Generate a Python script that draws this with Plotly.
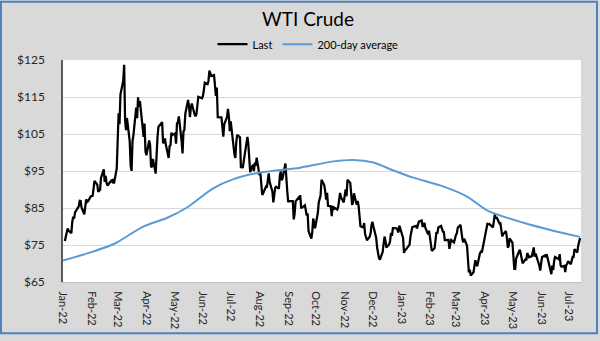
import plotly.graph_objects as go

# WTI front-month settlement prices, grouped by month
months = [
    "2022-01", "2022-02", "2022-03", "2022-04", "2022-05", "2022-06",
    "2022-07", "2022-08", "2022-09", "2022-10", "2022-11", "2022-12",
    "2023-01", "2023-02", "2023-03", "2023-04", "2023-05", "2023-06", "2023-07",
]

trading_days = [
    [3, 4, 5, 6, 7, 10, 11, 12, 13, 14, 18, 19, 20, 21, 24, 25, 26, 27, 28, 31],
    [1, 2, 3, 4, 7, 8, 9, 10, 11, 14, 15, 16, 17, 18, 22, 23, 24, 25, 28],
    [1, 2, 3, 4, 7, 8, 9, 10, 11, 14, 15, 16, 17, 18, 21, 22, 23, 24, 25, 28, 29, 30, 31],
    [1, 4, 5, 6, 7, 8, 11, 12, 13, 14, 18, 19, 20, 21, 22, 25, 26, 27, 28, 29],
    [2, 3, 4, 5, 6, 9, 10, 11, 12, 13, 16, 17, 18, 19, 20, 23, 24, 25, 26, 27, 31],
    [1, 2, 3, 6, 7, 8, 9, 10, 13, 14, 15, 16, 17, 21, 22, 23, 24, 27, 28, 29, 30],
    [1, 5, 6, 7, 8, 11, 12, 13, 14, 15, 18, 19, 20, 21, 22, 25, 26, 27, 28, 29],
    [1, 2, 3, 4, 5, 8, 9, 10, 11, 12, 15, 16, 17, 18, 19, 22, 23, 24, 25, 26, 29, 30, 31],
    [1, 2, 6, 7, 8, 9, 12, 13, 14, 15, 16, 19, 20, 21, 22, 23, 26, 27, 28, 29, 30],
    [3, 4, 5, 6, 7, 10, 11, 12, 13, 14, 17, 18, 19, 20, 21, 24, 25, 26, 27, 28, 31],
    [1, 2, 3, 4, 7, 8, 9, 10, 11, 14, 15, 16, 17, 18, 21, 22, 23, 25, 28, 29, 30],
    [1, 2, 5, 6, 7, 8, 9, 12, 13, 14, 15, 16, 19, 20, 21, 22, 23, 27, 28, 29, 30],
    [3, 4, 5, 6, 9, 10, 11, 12, 13, 17, 18, 19, 20, 23, 24, 25, 26, 27, 30, 31],
    [1, 2, 3, 6, 7, 8, 9, 10, 13, 14, 15, 16, 17, 21, 22, 23, 24, 27, 28],
    [1, 2, 3, 6, 7, 8, 9, 10, 13, 14, 15, 16, 17, 20, 21, 22, 23, 24, 27, 28, 29, 30, 31],
    [3, 4, 5, 6, 10, 11, 12, 13, 14, 17, 18, 19, 20, 21, 24, 25, 26, 27, 28],
    [1, 2, 3, 4, 5, 8, 9, 10, 11, 12, 15, 16, 17, 18, 19, 22, 23, 24, 25, 26, 30, 31],
    [1, 2, 5, 6, 7, 8, 9, 12, 13, 14, 15, 16, 20, 21, 22, 23, 26, 27, 28, 29, 30],
    [3, 5, 6, 7, 10, 11, 12, 13],
]

last_close = [
    [76.08, 76.99, 77.85, 79.46, 78.90, 78.23, 81.22, 82.64, 82.12, 83.82, 85.43, 86.96, 86.90, 85.14, 83.31, 85.60, 87.35, 86.61, 86.82, 88.15],
    [88.20, 88.26, 90.27, 92.31, 91.32, 89.36, 89.66, 89.88, 93.10, 95.46, 92.07, 93.66, 91.76, 91.07, 92.35, 92.10, 92.81, 91.59, 95.72],
    [103.41, 110.60, 107.67, 115.68, 119.40, 123.70, 108.70, 106.02, 109.33, 103.01, 96.44, 95.04, 102.98, 104.70, 112.12, 109.27, 114.93, 112.34, 113.90, 105.96, 104.24, 107.82, 100.28],
    [99.27, 103.28, 101.96, 96.23, 96.03, 98.26, 94.29, 100.60, 104.25, 106.95, 108.21, 102.56, 102.75, 103.79, 102.07, 98.54, 101.70, 102.02, 105.36, 104.69],
    [105.17, 102.41, 107.81, 108.26, 109.77, 103.09, 99.76, 105.71, 106.13, 110.49, 114.20, 112.40, 109.59, 112.21, 113.23, 110.29, 109.77, 110.33, 114.09, 115.07, 114.67],
    [115.26, 116.87, 118.87, 118.50, 119.41, 122.11, 121.51, 120.67, 120.93, 118.93, 115.31, 117.59, 109.56, 109.52, 106.19, 104.27, 107.62, 109.57, 111.76, 109.78, 105.76],
    [108.43, 99.50, 98.53, 102.73, 104.79, 104.09, 95.84, 96.30, 95.78, 97.59, 102.60, 104.22, 102.26, 96.35, 94.70, 96.70, 94.98, 97.26, 96.42, 98.62],
    [93.89, 94.42, 90.66, 88.54, 89.01, 90.76, 90.50, 91.93, 94.34, 92.09, 89.41, 86.53, 88.11, 90.50, 90.77, 90.23, 93.74, 94.89, 92.52, 93.06, 97.01, 91.64, 89.55],
    [86.61, 86.87, 86.88, 81.94, 83.54, 86.79, 87.78, 87.31, 88.48, 85.10, 85.11, 85.73, 84.45, 82.94, 83.49, 78.74, 76.71, 78.50, 82.15, 81.23, 79.49],
    [83.63, 86.52, 87.76, 88.45, 92.64, 91.13, 89.35, 87.27, 89.11, 85.61, 85.46, 82.82, 85.55, 84.51, 85.05, 84.58, 85.32, 87.91, 89.08, 87.90, 86.53],
    [88.37, 90.00, 88.17, 92.61, 91.79, 88.91, 85.83, 86.47, 88.96, 85.87, 86.92, 85.59, 81.64, 80.08, 79.73, 80.95, 77.94, 76.28, 77.24, 78.20, 80.55],
    [81.22, 79.98, 76.93, 74.25, 72.01, 71.46, 71.02, 73.17, 75.39, 77.28, 76.11, 74.29, 75.19, 76.09, 78.29, 77.49, 79.56, 79.53, 78.96, 78.40, 80.26],
    [76.93, 72.84, 73.67, 73.77, 74.63, 75.12, 77.41, 78.39, 79.86, 80.18, 79.48, 80.33, 81.31, 81.62, 80.13, 80.15, 81.01, 79.68, 77.90, 78.87],
    [76.41, 75.88, 73.39, 74.11, 77.14, 78.47, 78.06, 79.72, 80.14, 79.06, 78.59, 78.49, 76.34, 76.36, 73.95, 75.39, 76.32, 75.68, 77.05],
    [77.69, 78.16, 79.68, 80.46, 77.58, 76.66, 75.72, 76.68, 74.80, 71.33, 67.61, 68.35, 66.74, 67.64, 69.33, 70.90, 69.96, 69.26, 72.81, 73.20, 72.97, 74.37, 75.67],
    [80.42, 80.71, 80.61, 80.70, 79.74, 81.53, 83.26, 82.16, 82.52, 80.83, 80.86, 79.16, 77.37, 77.87, 78.76, 77.07, 74.30, 74.76, 76.78],
    [75.66, 71.66, 68.60, 68.56, 71.34, 73.16, 73.71, 72.56, 70.87, 70.04, 71.11, 70.86, 72.83, 71.86, 71.69, 71.99, 72.91, 74.34, 71.83, 72.67, 69.46, 68.09],
    [70.10, 71.74, 72.15, 71.74, 72.53, 71.29, 70.17, 67.12, 69.42, 68.27, 70.62, 71.78, 71.19, 72.53, 69.51, 69.16, 69.37, 67.70, 69.56, 69.86, 70.64],
    [69.79, 71.79, 71.80, 73.86, 72.99, 74.83, 75.75, 76.89],
]

# 200-day moving average, sampled along the curve
avg_dates = [
    "2022-01-01", "2022-02-02", "2022-02-26", "2022-03-28", "2022-04-23", "2022-05-14",
    "2022-06-12", "2022-07-04", "2022-08-02", "2022-09-05", "2022-09-14", "2022-10-20",
    "2022-11-10", "2022-12-02", "2022-12-23", "2023-01-14", "2023-02-12", "2023-03-13",
    "2023-04-04", "2023-05-13", "2023-06-15", "2023-07-13",
]
avg_values = [
    70.8, 73.2, 75.4, 79.9, 82.3, 85.0,
    90.3, 92.8, 94.6, 95.6, 95.9, 97.6,
    98.0, 97.3, 95.2, 93.2, 91.1, 88.1,
    84.3, 81.0, 78.8, 77.2,
]

# Month axis labels
tick_dates = [m + "-01" for m in months]
tick_labels = [
    "Jan-22", "Feb-22", "Mar-22", "Apr-22", "May-22", "Jun-22", "Jul-22", "Aug-22",
    "Sep-22", "Oct-22", "Nov-22", "Dec-22", "Jan-23", "Feb-23", "Mar-23", "Apr-23",
    "May-23", "Jun-23", "Jul-23",
]

price_dates, price_values = [], []
for m, days, vals in zip(months, trading_days, last_close):
    for d, v in zip(days, vals):
        price_dates.append(f"{m}-{d:02d}")
        price_values.append(v)

FONT = "Lato, 'Open Sans', sans-serif"
W, H = 600, 341
ML, MR, MT, MB = 63, 19, 60, 56
PW, PH = W - ML - MR, H - MT - MB


def px_x(p):
    return (p - ML) / PW


def px_y(p):
    return (H - MB - p) / PH


fig = go.Figure()
fig.add_trace(go.Scatter(
    x=price_dates, y=price_values, mode="lines", name="Last",
    line=dict(color="#000000", width=2.25),
))
fig.add_trace(go.Scatter(
    x=avg_dates, y=avg_values, mode="lines", name="200-day average",
    line=dict(color="#5b9bd5", width=2, shape="spline", smoothing=0.8),
))

fig.update_layout(
    width=W, height=H,
    margin=dict(l=ML, r=MR, t=MT, b=MB, pad=0),
    paper_bgcolor="#d9d9d9",
    plot_bgcolor="#ffffff",
    font=dict(family=FONT, color="#262626"),
    title=dict(
        text="WTI Crude", x=308 / W, xanchor="center",
        y=1 - 19 / H, yanchor="middle",
        font=dict(family=FONT, size=19, color="#000000"),
    ),
    showlegend=True,
    legend=dict(
        orientation="h", x=px_x(308), xanchor="center",
        y=px_y(44), yanchor="middle",
        font=dict(family=FONT, size=11, color="#000000"),
        bgcolor="rgba(0,0,0,0)", itemwidth=30,
        tracegroupgap=0,
    ),
    xaxis=dict(
        type="date",
        range=["2022-01-01", "2023-07-14"],
        tickmode="array", tickvals=tick_dates, ticktext=tick_labels,
        tickangle=90, ticks="", ticklabelstandoff=6,
        tickfont=dict(family=FONT, size=11, color="#262626"),
        showgrid=False, zeroline=False,
        showline=True, linecolor="#bfbfbf", linewidth=1,
    ),
    yaxis=dict(
        range=[65, 125], dtick=10, tick0=65,
        tickprefix="$", ticks="", ticklabelstandoff=14,
        tickfont=dict(family=FONT, size=12, color="#262626"),
        showgrid=True, gridcolor="#d9d9d9", gridwidth=1,
        zeroline=False,
        showline=True, linecolor="#595959", linewidth=1.5,
    ),
    shapes=[
        dict(
            type="rect", xref="paper", yref="paper",
            x0=px_x(1), x1=px_x(597), y0=px_y(337), y1=px_y(1),
            line=dict(color="#4f81bd", width=2), fillcolor="rgba(0,0,0,0)",
            layer="above",
        )
    ],
)

fig.write_html("out.html")
